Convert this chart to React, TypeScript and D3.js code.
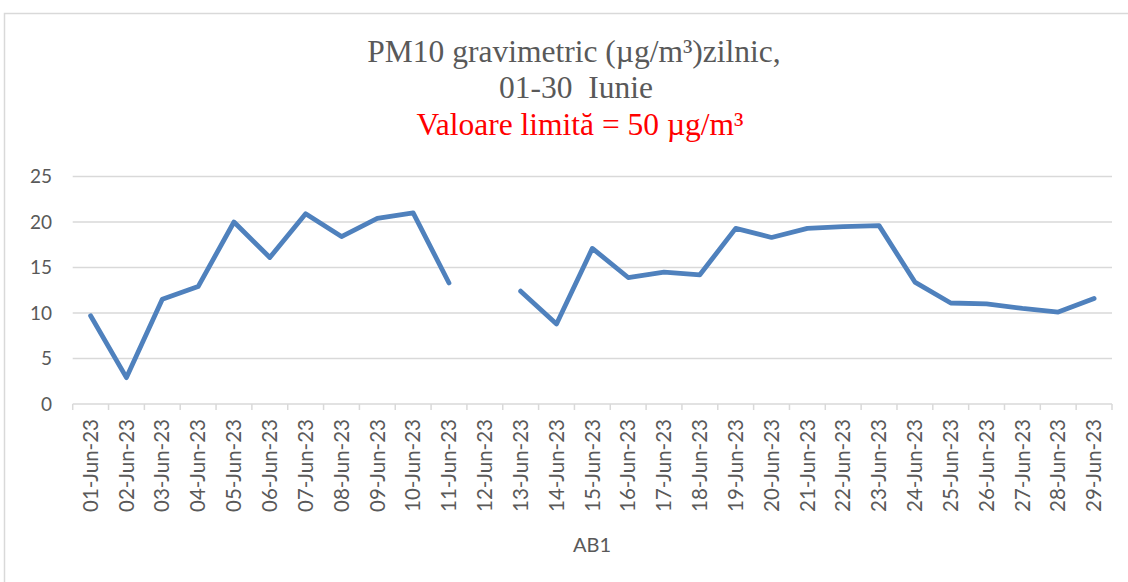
import React from "react";
import * as d3 from "d3";

const days = [
  "01-Jun-23", "02-Jun-23", "03-Jun-23", "04-Jun-23", "05-Jun-23", "06-Jun-23",
  "07-Jun-23", "08-Jun-23", "09-Jun-23", "10-Jun-23", "11-Jun-23", "12-Jun-23",
  "13-Jun-23", "14-Jun-23", "15-Jun-23", "16-Jun-23", "17-Jun-23", "18-Jun-23",
  "19-Jun-23", "20-Jun-23", "21-Jun-23", "22-Jun-23", "23-Jun-23", "24-Jun-23",
  "25-Jun-23", "26-Jun-23", "27-Jun-23", "28-Jun-23", "29-Jun-23"
];

// 12-Jun has no measurement
const pm10: (number | null)[] = [
  9.7, 2.9, 11.5, 12.9, 20.0, 16.1, 20.9, 18.4, 20.4, 21.0, 13.3, null,
  12.4, 8.8, 17.1, 13.9, 14.5, 14.2, 19.3, 18.3, 19.3, 19.5, 19.6, 13.4,
  11.1, 11.0, 10.5, 10.1, 11.6
];

const yTicks = [0, 5, 10, 15, 20, 25];

const layout = {
  width: 1128,
  height: 582,
  left: 72.7,
  right: 1112,
  top: 176.5,
  bottom: 404
};

const grey = "#595959";
const gridColour = "#d9d9d9";
const lineColour = "#4f81bd";

export default function App() {
  const xScale = d3
    .scaleBand<string>()
    .domain(days)
    .range([layout.left, layout.right]);
  const yScale = d3
    .scaleLinear()
    .domain([0, 25])
    .range([layout.bottom, layout.top]);

  const lineGenerator = d3
    .line<number | null>()
    .defined(d => d !== null)
    .x((d, i) => (xScale(days[i]) as number) + xScale.bandwidth() / 2)
    .y(d => yScale(d as number));

  const tickXs = days.map(d => xScale(d) as number).concat([layout.right]);

  return (
    <div style={{ position: "fixed", left: 0, top: 0 }}>
      <svg width={layout.width} height={layout.height}>
        <rect width={layout.width} height={layout.height} fill="#fff" />
        <rect
          x={4.5}
          y={13.5}
          width={layout.width + 10}
          height={layout.height + 10}
          fill="none"
          stroke={gridColour}
          strokeWidth={1.5}
        />

        <g fontFamily="'Liberation Serif', 'Times New Roman', serif" fontSize={31.5} textAnchor="middle">
          <text x={574} y={62} fill={grey}>PM10 gravimetric (µg/m³)zilnic,</text>
          <text x={576} y={98} fill={grey}>{"01-30\u00a0 Iunie"}</text>
          <text x={580} y={135} fill="#ff0000">Valoare limită = 50 µg/m³</text>
        </g>

        {yTicks.map(t => (
          <g key={t}>
            <line
              x1={layout.left}
              x2={layout.right}
              y1={yScale(t)}
              y2={yScale(t)}
              stroke={gridColour}
              strokeWidth={1.5}
            />
            <text
              x={52}
              y={yScale(t)}
              dy="0.35em"
              textAnchor="end"
              fontFamily="Lato, sans-serif"
              fontSize={19}
              fill={grey}
            >
              {t}
            </text>
          </g>
        ))}

        {tickXs.map((x, i) => (
          <line
            key={i}
            x1={x}
            x2={x}
            y1={layout.bottom}
            y2={layout.bottom + 6}
            stroke={gridColour}
            strokeWidth={1.5}
          />
        ))}

        {days.map(d => {
          const cx = (xScale(d) as number) + xScale.bandwidth() / 2;
          return (
            <text
              key={d}
              transform={`translate(${cx},419) rotate(-90)`}
              dy="0.35em"
              textAnchor="end"
              fontFamily="Lato, sans-serif"
              fontSize={20.5}
              fill={grey}
            >
              {d}
            </text>
          );
        })}

        <text
          x={592}
          y={552}
          textAnchor="middle"
          fontFamily="Lato, sans-serif"
          fontSize={20}
          fill={grey}
        >
          AB1
        </text>

        <path
          d={lineGenerator(pm10) || ""}
          fill="none"
          stroke={lineColour}
          strokeWidth={4.8}
          strokeLinejoin="round"
          strokeLinecap="round"
        />
      </svg>
    </div>
  );
}
